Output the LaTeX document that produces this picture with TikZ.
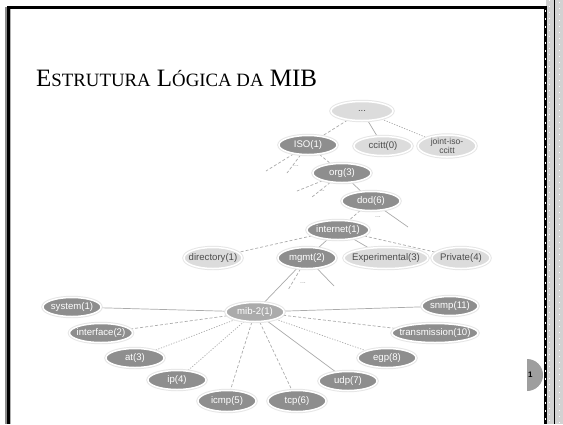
\documentclass[tikz,border=0pt]{standalone}
\usepackage{fontspec}
\newfontfamily\nodefont{Liberation Sans}
\newfontfamily\titlefont{Liberation Serif}
\usetikzlibrary{shapes.geometric,backgrounds}
\definecolor{darkfill}{HTML}{8E8E8E}
\definecolor{midfill}{HTML}{ABABAB}
\definecolor{lightfill}{HTML}{DCDCDC}
\definecolor{linkgray}{HTML}{ABABAB}
\definecolor{stripgray}{HTML}{D2D2D2}
% #1 style, #2 extra options, #3 name, #4 position, #5 text
\newcommand\mibn[5]{%
  \node[#1,#2] (#3) at (#4) {};
  \node[#1text] (#3-t) at (#3.center) {#5};}
\begin{document}
\begin{tikzpicture}[x=1pt,y=-1pt,
  mibnode/.style={ellipse, inner sep=0pt, minimum height=19pt, minimum width=58pt,
    preaction={draw=black!10, line width=3.4pt}, draw=white, line width=1.5pt},
  darknode/.style={mibnode, fill=darkfill},
  midnode/.style={mibnode, fill=midfill},
  lightnode/.style={mibnode, fill=lightfill},
  basetext/.style={inner sep=0pt, align=center, font=\nodefont\fontsize{9.6}{9}\selectfont},
  darknodetext/.style={basetext, text=white},
  midnodetext/.style={basetext, text=white},
  lightnodetext/.style={basetext, text=black!70},
  link/.style={draw=linkgray, line width=0.7pt},
  dashlink/.style={link, dash pattern=on 3pt off 2pt},
  dotlink/.style={link, dash pattern=on 1.2pt off 1.5pt},
  dots/.style={font=\nodefont\fontsize{7}{7}\selectfont, text=black!40, inner sep=0pt}]
\useasboundingbox (0,0) rectangle (563,424);
% frame
\fill[black!45] (4.5,7) rectangle (7,424);
\fill[black] (7,6) rectangle (10,424);
\fill[black!30] (10,9) rectangle (11,424);
\fill[black] (7,6) rectangle (546,8.5);
% right strip
\fill[stripgray] (546,0) rectangle (563,424);
\fill[black] (544,6) rectangle (547,424);
\draw[white, line width=1.2pt, dash pattern=on 2pt off 6pt] (545.5,10) -- (545.5,424);
\draw[black, line width=0.6pt] (554,0) -- (554,424);
\draw[white, line width=0.8pt, dash pattern=on 1pt off 5pt] (549.5,0) -- (549.5,424);
\draw[white, line width=0.8pt, dash pattern=on 1pt off 5pt] (559,2) -- (559,424);
% slide number
\begin{scope}
\clip (527,350) rectangle (545,400);
\fill[black!38] (527,375) circle[radius=16pt];
\end{scope}
\node[font=\nodefont\bfseries\fontsize{8}{8}\selectfont, anchor=west, inner sep=0pt] (pg) at (528,375) {1};
% title
\node[anchor=base west, inner sep=0pt, font=\titlefont\fontsize{25}{28}\selectfont] (title) at (36,86)
  {E{\fontsize{18.8}{20}\selectfont STRUTURA} L{\fontsize{18.8}{20}\selectfont ÓGICA DA} MIB};
% nodes
\mibn{lightnode}{minimum width=62pt}{root}{362,111}{...}
\mibn{darknode}{}{iso}{308,145}{ISO(1)}
\mibn{lightnode}{}{ccitt}{383,146}{ccitt(0)}
\node[lightnode, minimum height=22pt] (joint) at (447,146) {};
\node[lightnodetext, font=\nodefont\fontsize{8.6}{7.5}\selectfont] (joint-t) at (joint.center) {joint-iso-\\ccitt};
\mibn{darknode}{}{org}{342,173}{org(3)}
\mibn{darknode}{}{dod}{371,201}{dod(6)}
\mibn{darknode}{minimum width=62pt}{internet}{338,230}{internet(1)}
\mibn{lightnode}{minimum height=21pt}{directory}{213,258}{directory(1)}
\mibn{darknode}{minimum height=21pt}{mgmt}{307,258}{mgmt(2)}
\mibn{lightnode}{minimum height=21pt, minimum width=84pt}{exper}{386,258}{Experimental(3)}
\mibn{lightnode}{minimum height=21pt}{private}{461,258}{Private(4)}
\mibn{midnode}{}{mib}{255,312}{mib-2(1)}
\mibn{darknode}{}{system}{72,307}{system(1)}
\mibn{darknode}{minimum width=63pt}{interface}{101,333}{interface(2)}
\mibn{darknode}{}{at}{135,358}{at(3)}
\mibn{darknode}{}{ip}{177,380}{ip(4)}
\mibn{darknode}{minimum height=21pt}{icmp}{227,401}{icmp(5)}
\mibn{darknode}{minimum height=21pt}{tcp}{297,401}{tcp(6)}
\mibn{darknode}{}{udp}{348,381}{udp(7)}
\mibn{darknode}{}{egp}{387,358}{egp(8)}
\mibn{darknode}{minimum width=86pt}{trans}{435,333}{transmission(10)}
\mibn{darknode}{minimum width=56pt}{snmp}{450,306}{snmp(11)}
% stub ends
\coordinate (s1) at (266,171);
\coordinate (s2) at (287,173);
\coordinate (s3) at (297,191);
\coordinate (s4) at (312,197);
\coordinate (s5) at (408,227);
\coordinate (s6) at (288,290);
\coordinate (s7) at (334,286);
\node[dots] (d1) at (296,166) {...};
\node[dots] (d2) at (322,191) {...};
\node[dots] (d3) at (378,217) {...};
\node[dots] (d4) at (303,283) {...};
\begin{scope}[on background layer]
\fill[white] (0,0) rectangle (543,424);
\draw[dashlink] (root) -- (iso);
\draw[link] (root) -- (ccitt);
\draw[dotlink] (root) -- (joint);
\draw[dashlink] (iso) -- (org);
\draw[dashlink] (iso) -- (s1);
\draw[dashlink] (iso) -- (s2);
\draw[link] (org) -- (dod);
\draw[dashlink] (org) -- (s3);
\draw[dashlink] (org) -- (s4);
\draw[dashlink] (dod) -- (internet);
\draw[link] (dod) -- (s5);
\draw[dashlink] (internet) -- (directory);
\draw[link] (internet) -- (mgmt);
\draw[link] (internet) -- (exper);
\draw[dashlink] (internet) -- (private);
\draw[link] (mgmt) -- (mib);
\draw[dashlink] (mgmt) -- (s6);
\draw[link] (mgmt) -- (s7);
\draw[link] (mib) -- (system);
\draw[dashlink] (mib) -- (interface);
\draw[dotlink] (mib) -- (at);
\draw[dotlink] (mib) -- (ip);
\draw[dashlink] (mib) -- (icmp);
\draw[dashlink] (mib) -- (tcp);
\draw[link] (mib) -- (udp);
\draw[dotlink] (mib) -- (egp);
\draw[dashlink] (mib) -- (trans);
\draw[link] (mib) -- (snmp);
\end{scope}
\end{tikzpicture}
\end{document}
